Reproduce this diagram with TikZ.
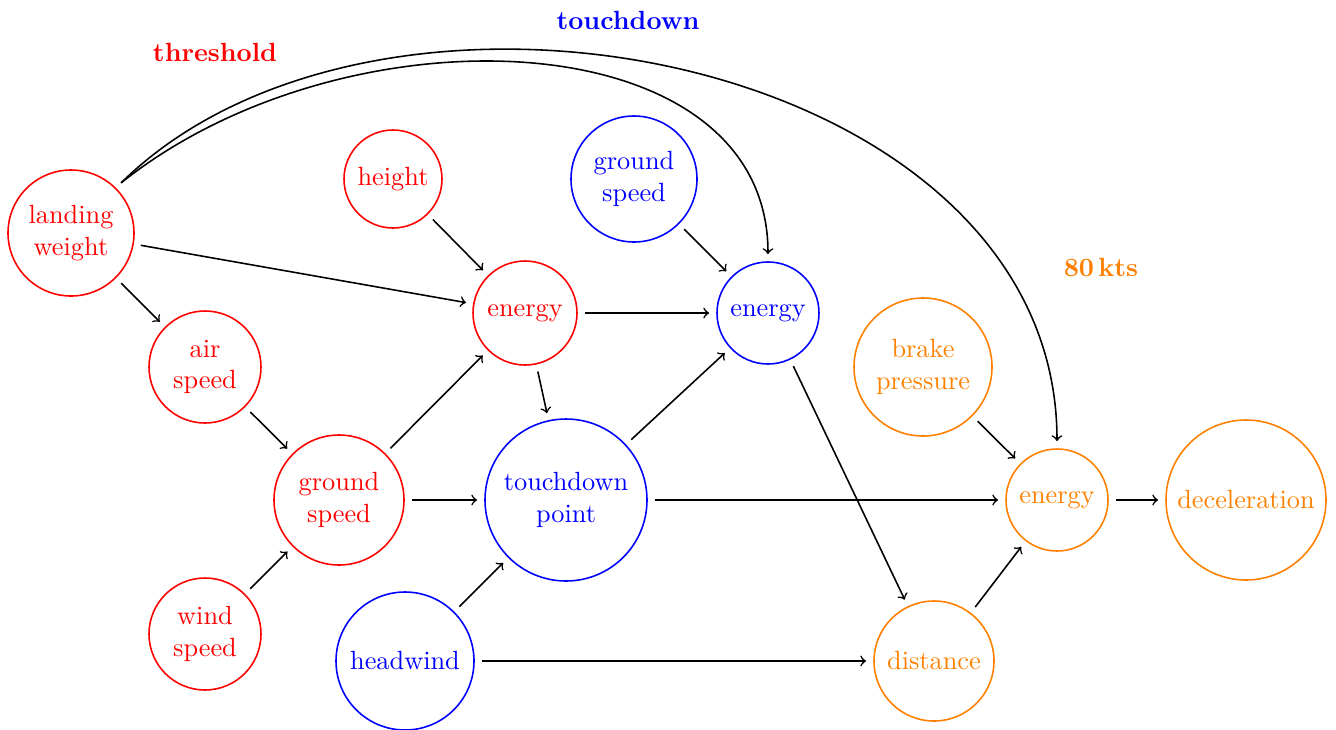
\documentclass[tikz,border=0pt]{standalone}
\begin{document}
\begin{tikzpicture}[x=0.38pt,y=-0.38pt,
  nd/.style={circle,draw,semithick,align=center,inner sep=0pt,outer sep=3pt},
  arr/.style={->,semithick},
  lbl/.style={font=\bfseries}]
\useasboundingbox (0,0) rectangle (1336,729);
% red nodes
\node[nd,red,minimum size=47.88pt] (lw) at (71,233) {landing\\weight};
\node[nd,red,minimum size=37.24pt] (ht) at (393,179) {height};
\node[nd,red,minimum size=39.52pt] (re) at (525,313) {energy};
\node[nd,red,minimum size=42.56pt] (as) at (205,367) {air\\speed};
\node[nd,red,minimum size=49.4pt] (rgs) at (339,500) {ground\\speed};
\node[nd,red,minimum size=42.56pt] (ws) at (205,634) {wind\\speed};
% blue nodes
\node[nd,blue,minimum size=47.88pt] (bgs) at (634,179) {ground\\speed};
\node[nd,blue,minimum size=38.76pt] (be) at (768,313) {energy};
\node[nd,blue,minimum size=61.56pt] (td) at (566,500) {touchdown\\point};
\node[nd,blue,minimum size=52.44pt] (hw) at (405,661) {headwind};
% orange nodes
\node[nd,orange,minimum size=52.44pt] (bp) at (923,367) {brake\\pressure};
\node[nd,orange,minimum size=38.76pt] (oe) at (1057,500) {energy};
\node[nd,orange,minimum size=60.8pt] (dc) at (1246,500) {deceleration};
\node[nd,orange,minimum size=45.6pt] (ds) at (934,661) {distance};
% labels
\node[lbl,red] (l1) at (215,52) {threshold};
\node[lbl,blue] (l2) at (628,20) {touchdown};
\node[lbl,orange] (l3) at (1101,268) {80\,kts};
% connectors
\draw[arr] (lw) -- (as);
\draw[arr] (lw) -- (re);
\draw[arr] (ht) -- (re);
\draw[arr] (as) -- (rgs);
\draw[arr] (ws) -- (rgs);
\draw[arr] (rgs) -- (re);
\draw[arr] (rgs) -- (td);
\draw[arr] (re) -- (td);
\draw[arr] (re) -- (be);
\draw[arr] (bgs) -- (be);
\draw[arr] (td) -- (be);
\draw[arr] (td) -- (oe);
\draw[arr] (hw) -- (td);
\draw[arr] (hw) -- (ds);
\draw[arr] (be) -- (ds);
\draw[arr] (bp) -- (oe);
\draw[arr] (ds) -- (oe);
\draw[arr] (oe) -- (dc);
\draw[arr] (lw.45) .. controls +(225,-180) and +(0,-235) .. (be.north);
\draw[arr] (lw.45) .. controls +(262,-258) and +(0,-385) .. (oe.north);
\end{tikzpicture}
\end{document}
